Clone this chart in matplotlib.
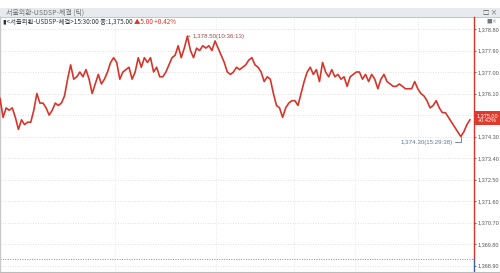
import matplotlib
matplotlib.use('Agg')
import matplotlib.pyplot as plt
from matplotlib.lines import Line2D
from matplotlib.patches import Rectangle
from matplotlib.ticker import FuncFormatter
from matplotlib import font_manager

plt.rcParams['font.family'] = ['Noto Sans CJK KR', 'DejaVu Sans']

# 체결가 (틱 순서대로 읽은 값)
prices = [
    1375.9, 1375.1, 1375.5, 1375.4, 1375.5, 1375.1, 1374.6, 1375.0, 1374.8, 1374.9,
    1374.9, 1375.4, 1376.1, 1375.7, 1375.7, 1375.5, 1375.2, 1375.4, 1375.7, 1375.6,
    1375.7, 1376.0, 1376.7, 1377.3, 1376.7, 1376.8, 1377.0, 1376.8, 1377.1, 1376.7,
    1376.1, 1376.5, 1376.9, 1376.5, 1376.7, 1377.0, 1377.4, 1377.6, 1377.4, 1376.7,
    1377.0, 1377.1, 1377.2, 1376.7, 1377.0, 1377.6, 1377.2, 1377.6, 1377.4, 1377.6,
    1377.0, 1377.2, 1376.8, 1376.8, 1377.0, 1377.3, 1377.6, 1377.7, 1378.1, 1377.6,
    1378.0, 1378.5, 1377.9, 1377.6, 1378.0, 1377.9, 1378.1, 1378.0, 1378.1, 1377.9,
    1378.3, 1378.0, 1377.7, 1377.4, 1377.0, 1376.9, 1377.0, 1377.2, 1377.1, 1377.2,
    1377.3, 1377.5, 1377.6, 1377.3, 1377.2, 1377.0, 1376.6, 1376.8, 1376.7, 1376.1,
    1375.6, 1375.5, 1375.1, 1375.5, 1375.7, 1375.8, 1375.8, 1375.6, 1376.1, 1376.6,
    1377.0, 1377.2, 1376.9, 1377.1, 1376.6, 1377.4, 1377.0, 1376.8, 1377.1, 1376.8,
    1376.9, 1376.7, 1376.8, 1376.4, 1376.8, 1376.9, 1377.0, 1377.0, 1376.7, 1376.9,
    1376.6, 1376.9, 1376.7, 1376.3, 1376.7, 1376.9, 1376.6, 1376.5, 1376.4, 1376.4,
    1376.5, 1376.4, 1376.3, 1376.3, 1376.3, 1376.6, 1376.3, 1376.1, 1376.0, 1375.8,
    1375.5, 1375.6, 1375.8, 1375.5, 1375.3, 1375.3, 1375.1, 1374.9, 1374.7, 1374.5,
    1374.3, 1374.5, 1374.8, 1375.0,
]
y_ticks = [1368.9, 1369.8, 1370.7, 1371.6, 1372.5, 1373.4, 1374.3, 1375.2,
           1376.1, 1377.0, 1377.9, 1378.8]
high_label = '1,378.50(10:36:13)'
low_label = '1,374.30(15:29:38)'
title = '서울외환-USDSP-체결 (틱)'
info = '▮<서울외환-USDSP-체결>15:30:00 종:1,375.00 '
change = '▲5.00 +0.42%'
last_box = '1,375.00\n+0.42%'

# 숫자용 좁은 글꼴
names = {f.name for f in font_manager.fontManager.ttflist}
num_font = ['Liberation Sans Narrow'] if 'Liberation Sans Narrow' in names else ['Liberation Sans']
num_size = 4.7 if num_font[0] == 'Liberation Sans Narrow' else 4.0

W, H = 500, 273
fig = plt.figure(figsize=(5, 2.73), dpi=100)
fig.patch.set_facecolor('white')

def fx(px):
    return px / W

def fy(py):
    return 1 - py / H

# 상단 제목 바
fig.add_artist(Rectangle((0, fy(17)), 1, fy(8) - fy(17), transform=fig.transFigure,
                         facecolor='#e8eaed', edgecolor='none', zorder=0))
fig.add_artist(Line2D([0, 1], [fy(17), fy(17)], transform=fig.transFigure,
                      color='#c4c7cc', lw=0.8))
fig.text(fx(6), fy(13), title, fontsize=5.0, color='#707070', va='center')
fig.text(fx(497), fy(13), '□ ×', fontsize=4.6, color='#555555', va='center', ha='right')

ax = fig.add_axes([0, fy(272), fx(474), fy(17) - fy(272)])
ax.set_facecolor('white')

x = list(range(len(prices)))
ax.plot(x, prices, color='#d8352a', lw=1.2, zorder=3)
ax.set_xlim(0, (len(prices) - 1) * 474 / 470)
ax.set_ylim(1368.633, 1379.302)

ax.set_yticks(y_ticks)
ax.yaxis.tick_right()
ax.yaxis.set_major_formatter(FuncFormatter(
    lambda v, p: '' if abs(v - 1375.2) < 0.01 else f'{v:,.2f}'))
ax.tick_params(axis='y', length=1.5, width=0.6, color='#555555', labelsize=num_size,
               labelcolor='#555555', pad=0.8)
for lab in ax.get_yticklabels():
    lab.set_family(num_font)
ax.set_xticks([])
ax.grid(axis='y', color='#d6d6d6', linestyle=(0, (1, 2)), lw=0.6)
for xp in [115, 216, 294, 355, 418]:
    ax.axvline(xp / 474 * ax.get_xlim()[1], color='#e0e0e0',
               linestyle=(0, (1, 2)), lw=0.6, zorder=1)
ax.axhline(1369.18, color='#8a8a8a', linestyle=(0, (1, 1.5)), lw=0.7)

for s in ['top', 'right', 'bottom']:
    ax.spines[s].set_visible(False)
ax.spines['left'].set_color('#c8c8c8')
ax.spines['left'].set_linewidth(1.0)

# 오른쪽 축선
fig.add_artist(Line2D([fx(474), fx(474)], [fy(17), fy(259)], transform=fig.transFigure,
                      color='#d8352a', lw=1.0))
fig.add_artist(Line2D([fx(474), fx(474)], [fy(259), fy(272)], transform=fig.transFigure,
                      color='#3a5fa8', lw=1.0))
fig.add_artist(Line2D([0, 1], [fy(272), fy(272)], transform=fig.transFigure,
                      color='#bbbbbb', lw=0.8))

# 정보 줄
t = fig.text(fx(3), fy(22), info, fontsize=4.6, color='#333333', va='center')
fig.canvas.draw()
bb = t.get_window_extent()
fig.text(bb.x1 / W, fy(22), change, fontsize=4.6, color='#d8352a', va='center')
fig.text(fx(497), fy(21), '■×', fontsize=4.0, color='#777777', va='center', ha='right')

# 최고/최저 표시
hi = prices.index(max(prices))
lo = len(prices) - 1 - prices[::-1].index(min(prices))
ax.annotate(high_label, xy=(hi, max(prices)), xytext=(4, 0), textcoords='offset points',
            fontsize=4.4, color='#9a4a4a', va='center', family=num_font,
            arrowprops=dict(arrowstyle='-', color='#9a4a4a', lw=0.6,
                            shrinkA=0, shrinkB=0))
ax.annotate(low_label, xy=(lo, min(prices)), xytext=(-6, -4), textcoords='offset points',
            fontsize=4.4, color='#5a7898', va='center', ha='right', family=num_font,
            arrowprops=dict(arrowstyle='-', color='#5a7898', lw=0.6,
                            shrinkA=0, shrinkB=0,
                            connectionstyle='angle,angleA=0,angleB=90,rad=0'))

# 현재가 박스
fig.add_artist(Rectangle((fx(475), fy(125)), fx(25), fy(111) - fy(125),
                         transform=fig.transFigure, facecolor='#e0392d',
                         edgecolor='none', zorder=5))
fig.text(fx(487.5), fy(118), last_box, fontsize=num_size, color='white', ha='center',
         va='center', linespacing=1.0, zorder=6, family=num_font)

fig.savefig('out.png', dpi=100)
